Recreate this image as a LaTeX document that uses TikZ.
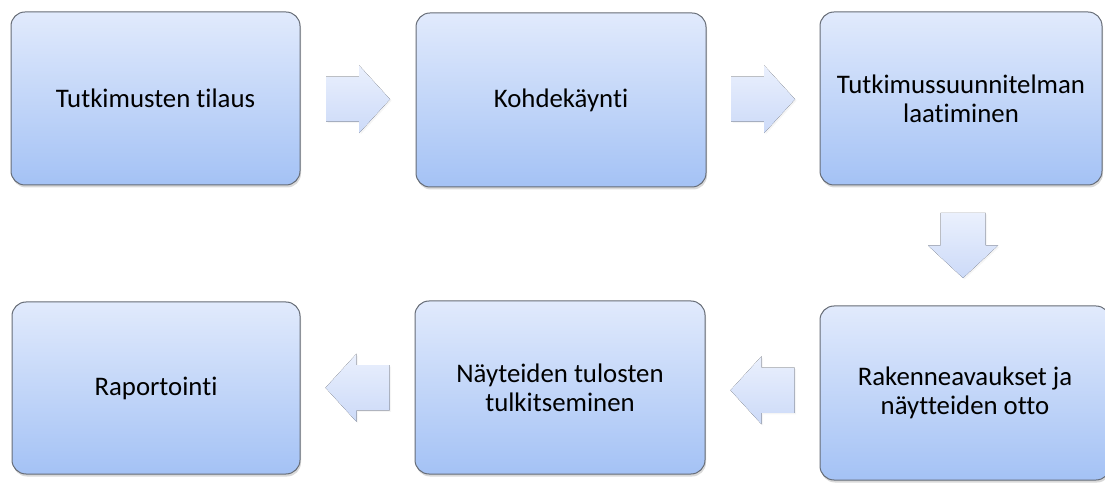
\documentclass[tikz,border=0pt]{standalone}
\usepackage{fontspec}
\setmainfont{Carlito}[Ligatures=CommonOff]
\usepackage{tikz}
\usetikzlibrary{calc, positioning, shadows}

\definecolor{laatikkoylä}{RGB}{225,234,252}
\definecolor{laatikkoala}{RGB}{164,194,245}
\definecolor{reuna}{RGB}{102,108,118}
\definecolor{nuoliylä}{RGB}{234,240,253}
\definecolor{nuoliala}{RGB}{204,218,248}

\tikzset{
    vaihe/.style={draw=reuna, line width=1pt, rounded corners=14pt,
        top color=laatikkoylä, bottom color=laatikkoala,
        minimum width=289pt, minimum height=173pt, align=center,
        font=\fontsize{26.8}{29}\selectfont,
        drop shadow={opacity=0.3, shadow xshift=1pt, shadow yshift=-2.5pt}},
    nuoli/.style={top color=nuoliylä, bottom color=nuoliala,
        drop shadow={opacity=0.08, shadow xshift=1.5pt, shadow yshift=-1.5pt}}
}

\begin{document}
\begin{tikzpicture}[x=1pt, y=1pt]
    \useasboundingbox (0,0) rectangle (1105,482);
    \clip (0,0) rectangle (1105,482);

    % Vaiheet
    \node[vaihe] (tilaus) at (155.5,383.5) {Tutkimusten tilaus};
    \node[vaihe, minimum width=290pt, minimum height=174pt] (kaynti) at (561,382) {Kohdekäynti};
    \node[vaihe, minimum width=282pt] (suunnitelma) at (961,383.5) {Tutkimussuunnitelman\\laatiminen};
    \node[vaihe, minimum width=290pt, minimum height=174pt] (naytteet) at (965,89) {Rakenneavaukset ja\\näytteiden otto};
    \node[vaihe, minimum width=290pt] (tulkinta) at (560,94.5) {Näyteiden tulosten\\tulkitseminen};
    \node[vaihe, minimum width=288pt, minimum height=172pt] (raportti) at (156,94) {Raportointi};

    % Nuolet
    \coordinate (n1) at ($(tilaus.east)!0.5!(kaynti.west)$);
    \coordinate (n2) at ($(kaynti.east)!0.5!(suunnitelma.west)$);
    \coordinate (n3) at ($(suunnitelma.south)!0.5!(naytteet.north)$);
    \coordinate (n4) at ($(naytteet.west)!0.5!(tulkinta.east)$);
    \coordinate (n5) at ($(tulkinta.west)!0.5!(raportti.east)$);

    \fill[nuoli, shift={(n1)}] (-32,-22.5) -- (1,-22.5) -- (1,-34) -- (32,0) -- (1,34) -- (1,22.5) -- (-32,22.5) -- cycle;
    \fill[nuoli, shift={(n2)}] (-32,-22.5) -- (1,-22.5) -- (1,-34) -- (32,0) -- (1,34) -- (1,22.5) -- (-32,22.5) -- cycle;
    \fill[nuoli, shift={(n3)}] (-22.5,32.5) -- (-22.5,0) -- (-35,0) -- (0,-32.5) -- (35,0) -- (22.5,0) -- (22.5,32.5) -- cycle;
    \fill[nuoli, shift={(n4)}] (32,-22.5) -- (-1,-22.5) -- (-1,-34) -- (-32,0) -- (-1,34) -- (-1,22.5) -- (32,22.5) -- cycle;
    \fill[nuoli, shift={(n5)}] (32,-22.5) -- (-1,-22.5) -- (-1,-34) -- (-32,0) -- (-1,34) -- (-1,22.5) -- (32,22.5) -- cycle;
\end{tikzpicture}
\end{document}
